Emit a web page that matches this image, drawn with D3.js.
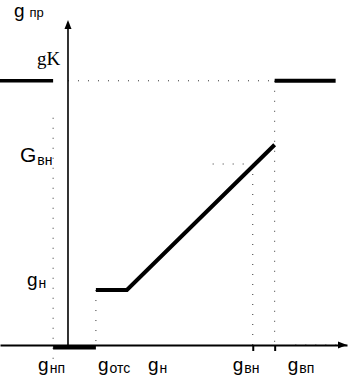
<!DOCTYPE html>
<html>
<head>
<meta charset="utf-8">
<script src="https://cdn.jsdelivr.net/npm/d3@7"></script>
<style>
  body { margin: 0; background: #fff; }
  text { font-family: "Liberation Sans", Arial, sans-serif; fill: #000; }
</style>
</head>
<body>
<svg id="chart" width="351" height="379"></svg>
<script>
// break points along the x axis (abstract units, origin at the y axis)
const xNames = ["нп", "отс", "н", "вн", "вп"];
const xVals = [-0.72, 1.35, 2.85, 8.94, 10];
// levels on the y axis
const yNames = ["н", "вн", "K"];
const yVals = [2.08, 6.85, 10];
// characteristic line
const charX = [1.35, 2.85, 10];
const charY = [2.08, 2.08, 7.58];
// saturated pieces
const leftBarX = [-3.29, -0.72];
const rightBarX = [10, 12.95];
const barLevel = 10;
const bottomBarX = [-0.72, 1.35];

const svg = d3.select('#chart')
const x = d3.scaleLinear().domain([-3.29, 13.5]).range([0, 347])
const y = d3.scaleLinear().domain([0, 12.3]).range([345, 20])

//dotted guide lines
const dotted = (x1, y1, x2, y2) => {
    svg.append('line')
        .attr('x1', x(x1)).attr('y1', y(y1))
        .attr('x2', x(x2)).attr('y2', y(y2))
        .attr('stroke', '#333')
        .attr('stroke-width', 1)
        .attr('stroke-dasharray', '1,9')
}
dotted(0, yVals[2], xVals[4], yVals[2])
dotted(xVals[4], yVals[2], xVals[4], 0)
dotted(xVals[0], 8.6, xVals[0], -0.6)
dotted(xVals[1], yVals[0], xVals[1], 0)
dotted(7.0, yVals[1], xVals[3], yVals[1])
dotted(xVals[3], yVals[1], xVals[3], 0)
dotted(11.0, 0, 13.2, 0)

//x axis with two ticks
const xAxis = svg.append('g')
    .attr('transform', `translate(0,${y(0)})`)
    .call(d3.axisBottom(x).tickValues([xVals[3], xVals[4]]).tickSize(6).tickSizeOuter(0).tickFormat(''))
xAxis.select('.domain').attr('stroke-width', 2)
xAxis.selectAll('.tick line').attr('stroke-width', 2)

//y axis
svg.append('line')
    .attr('x1', x(0)).attr('x2', x(0))
    .attr('y1', y(12.0)).attr('y2', y(-0.1))
    .attr('stroke', '#000').attr('stroke-width', 1.6)

//arrow heads
svg.append('path')
    .attr('d', `M${x(0)},${y(12.3)} l-3.5,9 l7,0 z`)
svg.append('path')
    .attr('d', `M${x(13.5)},${y(0)} l-9,-3.5 l0,7 z`)

//thick pieces
const line = d3.line().x(d => x(d[0])).y(d => y(d[1]))
svg.append('path')
    .attr('d', line(charX.map((v, i) => [v, charY[i]])))
    .attr('fill', 'none').attr('stroke', '#000').attr('stroke-width', 4)
svg.append('path')
    .attr('d', line(leftBarX.map(v => [v, barLevel])))
    .attr('stroke', '#000').attr('stroke-width', 3.5)
svg.append('path')
    .attr('d', line(rightBarX.map(v => [v, barLevel])))
    .attr('stroke', '#000').attr('stroke-width', 4)
svg.append('path')
    .attr('d', line(bottomBarX.map(v => [v, 0])))
    .attr('transform', 'translate(0,2.5)')
    .attr('stroke', '#000').attr('stroke-width', 4)

//labels
const label = (px, py, main, sub, opts = {}) => {
    const t = svg.append('text')
        .attr('x', px).attr('y', py)
        .style('font-size', (opts.size || 19) + 'px')
    t.append('tspan').text(main)
    t.append('tspan').text(sub)
        .attr('dx', opts.gap || 1)
        .attr('dy', opts.drop === undefined ? 2 : opts.drop)
        .style('font-size', (opts.subSize || 14) + 'px')
}

// x labels, left edge offsets from their points
const xLabelDx = [-15, 2, 21, -20, 13]
xNames.forEach((n, i) => label(x(xVals[i]) + xLabelDx[i], 371, 'g', n))

label(27, y(yVals[0]) - 4, 'g', yNames[0])
label(20, y(yVals[1]) - 2, 'G', yNames[1], {size: 21, drop: 3})
svg.append('text')
    .attr('x', 37).attr('y', y(yVals[2]) - 16)
    .style('font-family', '"Liberation Serif", "Times New Roman", serif')
    .style('font-size', '19px')
    .text('g' + yNames[2])

label(14, 17, 'g', 'пр', {size: 19, gap: 5, drop: 0, subSize: 13})
</script>
</body>
</html>
